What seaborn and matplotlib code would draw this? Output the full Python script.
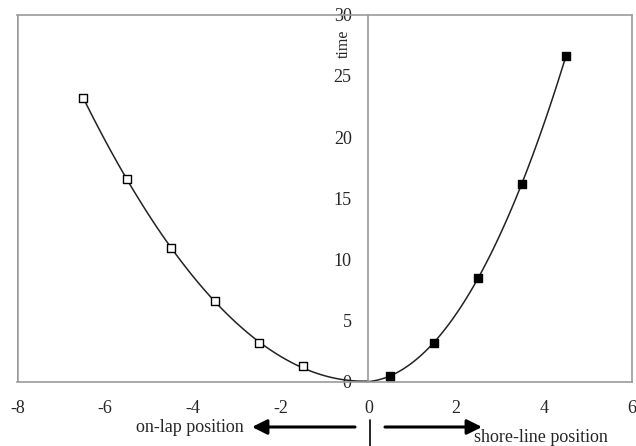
import matplotlib
matplotlib.use("Agg")
import matplotlib.pyplot as plt
import seaborn as sns
import pandas as pd
from matplotlib.lines import Line2D
from matplotlib.patches import FancyArrowPatch

# data
onlap_x = [-6.5, -5.5, -4.5, -3.5, -2.5, -1.5]
onlap_t = [23.2, 16.6, 10.9, 6.6, 3.15, 1.3]
shore_x = [0.5, 1.5, 2.5, 3.5, 4.5]
shore_t = [0.5, 3.2, 8.5, 16.2, 26.6]
origin_x = [0.0]
origin_t = [0.0]
x_ticks = [-8, -6, -4, -2, 0, 2, 4, 6]
y_ticks = [0, 5, 10, 15, 20, 25, 30]

sns.set_style("white")
plt.rcParams['font.family'] = ['Liberation Serif', 'DejaVu Serif']
plt.rcParams['axes.unicode_minus'] = False

fig = plt.figure(figsize=(6.36, 4.46), dpi=100)
ax = fig.add_axes([0.0272, 0.1442, 0.9660, 0.8228])

left_df = pd.DataFrame({"x": onlap_x + origin_x, "t": onlap_t + origin_t})
right_df = pd.DataFrame({"x": origin_x + shore_x, "t": origin_t + shore_t})

line_kws = dict(color="#222222", lw=1.1)
sns.regplot(data=left_df, x="x", y="t", order=2, ci=None, scatter=False,
            truncate=True, line_kws=line_kws, ax=ax)
sns.regplot(data=right_df, x="x", y="t", order=3, ci=None, scatter=False,
            truncate=True, line_kws=line_kws, ax=ax)

sns.scatterplot(x=onlap_x, y=onlap_t, marker="s", s=32, facecolor="white",
                edgecolor="black", linewidth=1.0, ax=ax, zorder=5)
sns.scatterplot(x=shore_x, y=shore_t, marker="s", s=32, color="black",
                edgecolor="black", linewidth=1.0, ax=ax, zorder=5)

ax.set_xlim(-8, 6)
ax.set_ylim(0, 30)
ax.set_xticks(x_ticks)
ax.set_yticks(y_ticks)
ax.set_xlabel("")
ax.set_ylabel("")

spine_col = "#999999"
for s in ax.spines.values():
    s.set_visible(True)
    s.set_color(spine_col)
    s.set_linewidth(1.2)
ax.spines['left'].set_position(('data', 0))
ax.axvline(-8, color=spine_col, lw=1.8, zorder=0)

ax.tick_params(axis='x', direction='inout', length=6, width=1, color=spine_col,
               labelsize=13, pad=10)
ax.tick_params(axis='y', direction='out', length=4, width=1, color=spine_col,
               labelsize=13, pad=8)
ax.tick_params(top=False, right=False)

ax.text(-0.55, 27.6, "time", rotation=90, ha="center", va="center", fontsize=11.5)

fig.text(190/636, 1-427/446, "on-lap position", ha="center", va="center", fontsize=13)
fig.text(541/636, 1-437/446, "shore-line position", ha="center", va="center", fontsize=13)

fig.add_artist(FancyArrowPatch(
    (355/636, 1-427/446), (252/636, 1-427/446), transform=fig.transFigure,
    arrowstyle="-|>,head_length=9,head_width=4.5", color="black", lw=2.2,
    mutation_scale=1, shrinkA=0, shrinkB=0))
fig.add_artist(FancyArrowPatch(
    (385/636, 1-427/446), (482/636, 1-427/446), transform=fig.transFigure,
    arrowstyle="-|>,head_length=9,head_width=4.5", color="black", lw=2.2,
    mutation_scale=1, shrinkA=0, shrinkB=0))
fig.add_artist(Line2D([370/636, 370/636], [1-420/446, 0], transform=fig.transFigure,
                      color="black", lw=1.2))

fig.savefig("out.png", dpi=100)
